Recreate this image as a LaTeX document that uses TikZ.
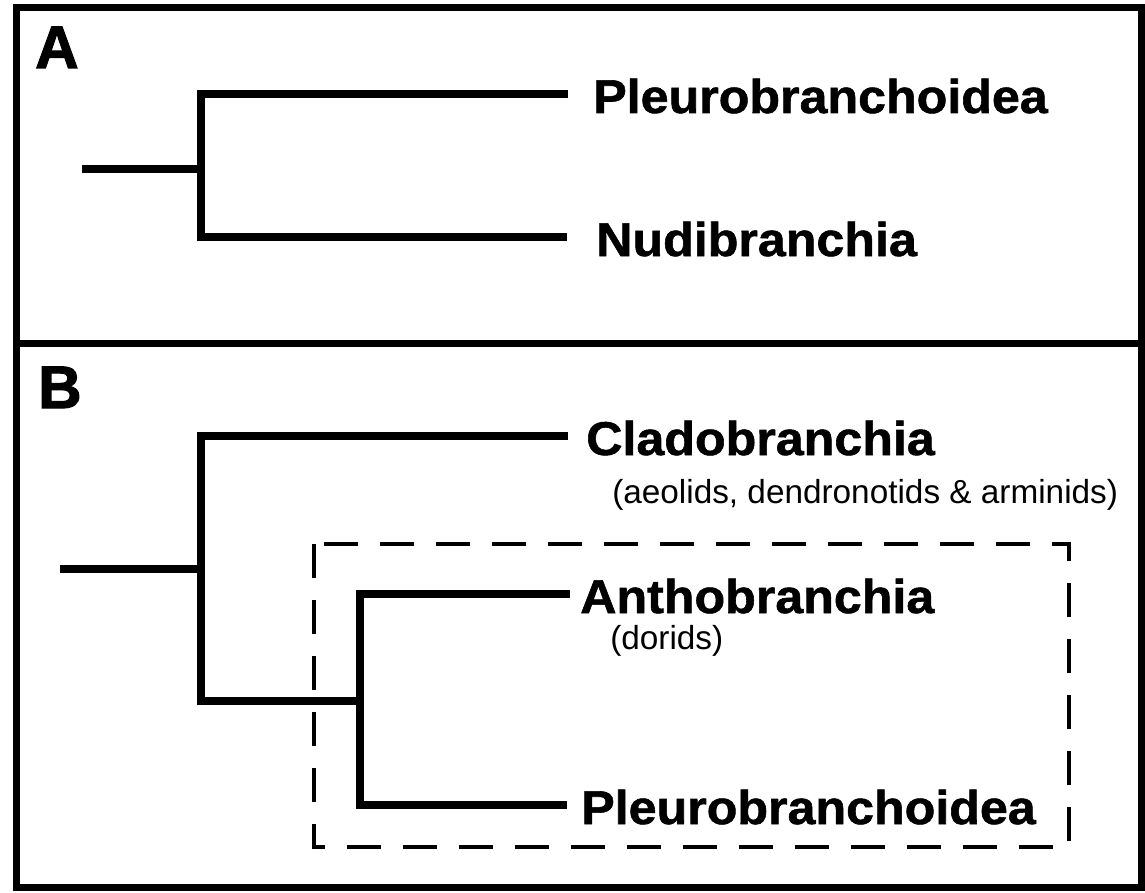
\documentclass[tikz,border=0pt]{standalone}
\usepackage{fontspec}
\setmainfont{Liberation Sans}
\newfontfamily\taxonfont{Liberation Sans}[FakeStretch=1.06, BoldFeatures={FakeBold=1.2}]
\newfontfamily\panelfont{Liberation Sans}[BoldFeatures={FakeBold=2}]
\tikzset{
  frame/.style={line width=5.25pt, line join=miter},
  branch/.style={line width=6pt, line join=miter},
  cladebox/.style={line width=2.4pt, dash pattern=on 25.5pt off 16.5pt},
  panel/.style={anchor=base west, inner sep=0pt, font=\panelfont\bfseries\fontsize{45}{50}\selectfont},
  taxon/.style={anchor=base west, inner sep=0pt, font=\taxonfont\bfseries\fontsize{35.5}{40}\selectfont},
  note/.style={anchor=base west, inner sep=0pt, font=\fontsize{25}{30}\selectfont},
}
\begin{document}
\begin{tikzpicture}[x=0.75pt, y=-0.75pt]
\useasboundingbox (0,0) rectangle (1145,892);

% panel frames
\coordinate (tl) at (16,8);
\coordinate (br) at (1141,887);
\coordinate (divl) at (16,343);
\coordinate (divr) at (1141,343);
\draw[frame] (tl) rectangle (br);
\draw[frame] (divl) -- (divr);

% ---------- panel A ----------
\node[panel] (labA) at (35,68) {A};
\coordinate (rootA) at (82,169);
\coordinate (nA) at (201,169);
\coordinate (tipA1) at (568,94);
\coordinate (tipA2) at (567,237);
\node[taxon] (pleuroA) at (593,113) {Pleurobranchoidea};
\node[taxon] (nudi) at (596,256) {Nudibranchia};
\draw[branch] (rootA) -- (nA);
\draw[branch] (tipA1) -| (nA) |- (tipA2);

% ---------- panel B ----------
\node[panel] (labB) at (38,408) {B};
\coordinate (rootB) at (60,569);
\coordinate (nB) at (201,569);
\coordinate (nC) at (360,701);
\coordinate (tipB1) at (568,436);
\coordinate (tipB2) at (570,594);
\coordinate (tipB3) at (567,805);
\node[taxon] (clado) at (586,455) {Cladobranchia};
\node[note] (cladoNote) at (612,503) {(aeolids, dendronotids \& arminids)};
\node[taxon] (antho) at (580,613) {Anthobranchia};
\node[note] (anthoNote) at (610,649) {(dorids)};
\node[taxon] (pleuroB) at (581,824) {Pleurobranchoidea};
\draw[branch] (rootB) -- (nB);
\draw[branch] (tipB1) -| (nB) |- (nC);
\draw[branch] (tipB2) -| (nC) |- (tipB3);

% clade Anthobranchia + Pleurobranchoidea
\coordinate (boxtl) at (314,544);
\coordinate (boxbr) at (1069,847);
\draw[cladebox] (boxtl) rectangle (boxbr);
\end{tikzpicture}
\end{document}
